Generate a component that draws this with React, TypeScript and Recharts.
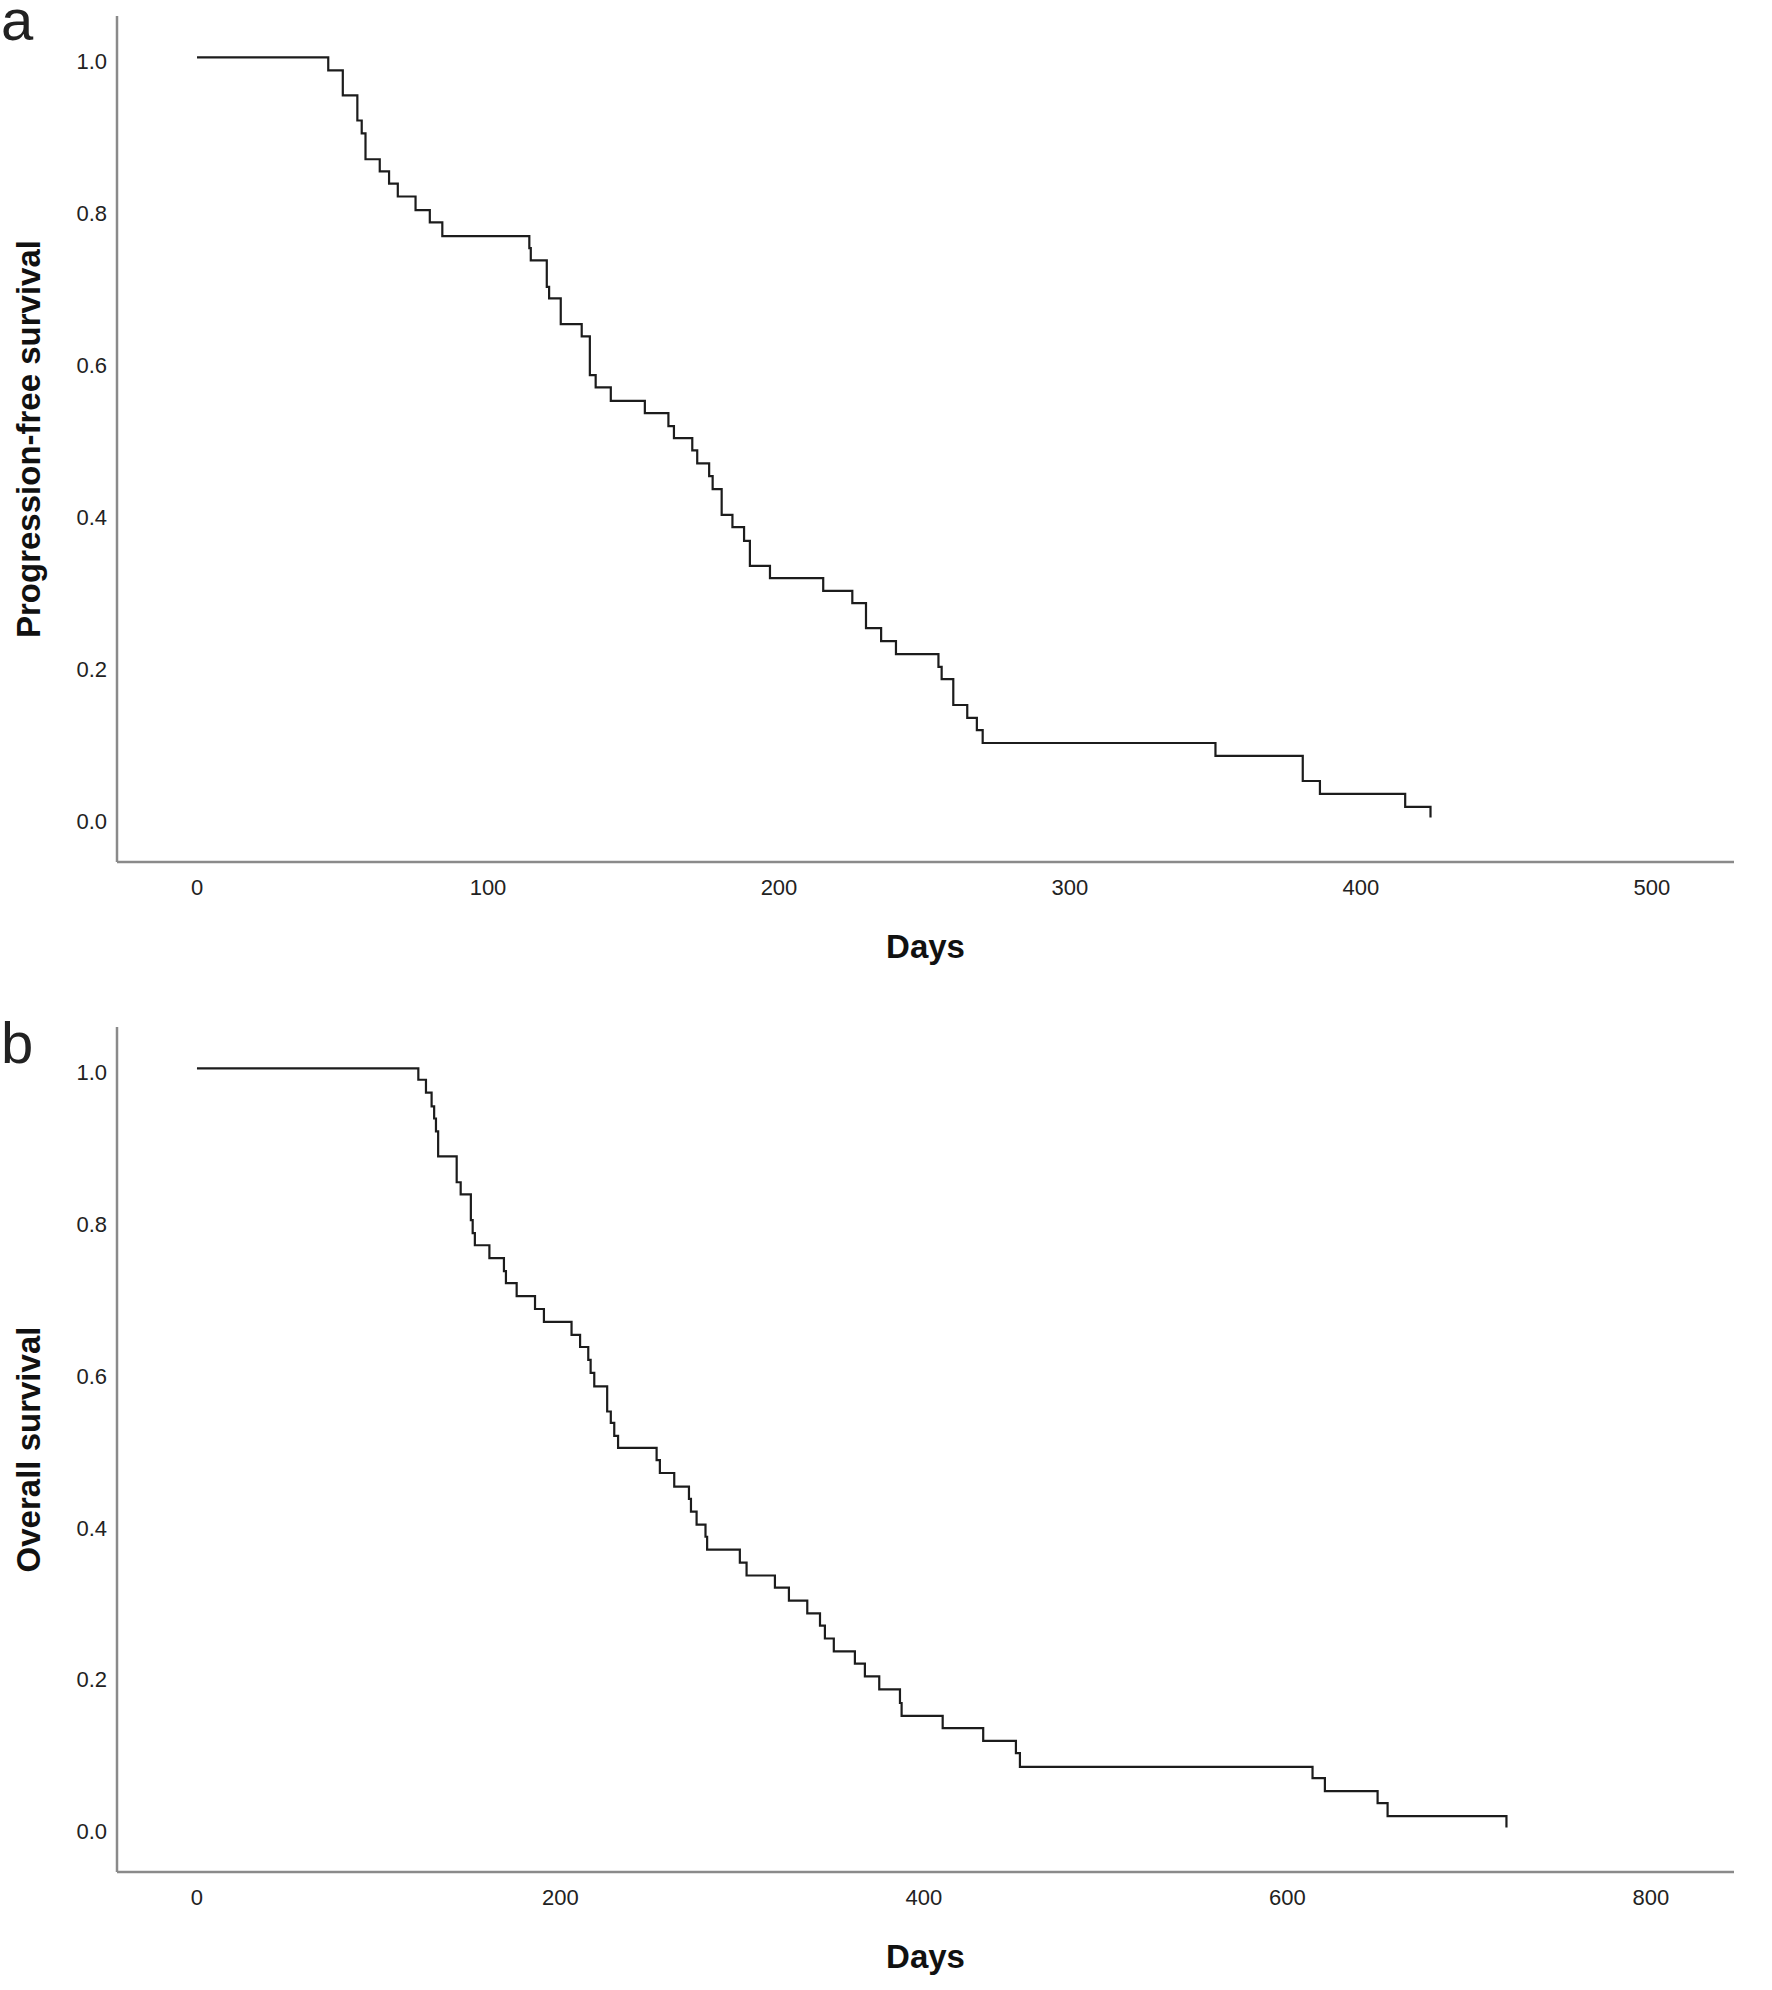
import React from 'react';
import { LineChart, Line, XAxis, YAxis } from 'recharts';

// Kaplan-Meier estimates (days, survival probability)
const pfsDays = [
  0, 45.1, 50.1, 55.1, 56.6, 57.9, 62.8, 66.0, 69.0, 75.1, 80.0, 84.3, 114.2, 114.7,
  120.2, 121.0, 125.0, 132.2, 135.0, 137.0, 142.2, 153.9, 162.0, 163.9, 170.2, 171.9,
  176.0, 177.2, 180.3, 184.0, 188.0, 190.0, 196.9, 215.2, 225.2, 229.9, 235.1, 240.2,
  254.8, 255.9, 259.9, 264.7, 268.0, 270.0, 350.0, 380.0, 385.9, 415.2, 423.9,
];
const pfsSurvival = [
  1.0, 0.983, 0.95, 0.917, 0.9, 0.866, 0.85, 0.834, 0.817, 0.799, 0.783, 0.765, 0.749, 0.733,
  0.698, 0.683, 0.649, 0.633, 0.582, 0.566, 0.548, 0.532, 0.515, 0.499, 0.483, 0.466,
  0.449, 0.432, 0.398, 0.382, 0.364, 0.331, 0.315, 0.298, 0.282, 0.249, 0.232, 0.215,
  0.198, 0.182, 0.148, 0.131, 0.115, 0.098, 0.081, 0.048, 0.031, 0.014, 0.0,
];

const osDays = [
  0, 121.8, 126.0, 129.1, 130.5, 131.5, 132.7, 142.9, 145.1, 150.7, 151.7, 152.9, 160.9,
  168.9, 170.0, 175.9, 186.0, 190.9, 206.1, 210.8, 215.3, 216.6, 218.6, 225.7, 227.7,
  229.6, 231.7, 252.9, 254.7, 262.6, 270.7, 271.8, 274.9, 279.8, 280.7, 298.7, 302.4,
  318.0, 325.7, 335.8, 342.8, 345.5, 350.4, 362.0, 367.5, 375.4, 386.8, 387.7, 410.3,
  432.6, 450.6, 452.8, 613.8, 620.6, 649.6, 655.1, 720.5,
];
const osSurvival = [
  1.0, 0.985, 0.968, 0.95, 0.934, 0.917, 0.884, 0.85, 0.834, 0.8, 0.783, 0.767, 0.75,
  0.733, 0.717, 0.7, 0.683, 0.666, 0.649, 0.633, 0.616, 0.599, 0.581, 0.548, 0.533,
  0.516, 0.5, 0.484, 0.467, 0.449, 0.433, 0.416, 0.399, 0.383, 0.366, 0.349, 0.332,
  0.316, 0.299, 0.282, 0.266, 0.249, 0.232, 0.216, 0.199, 0.182, 0.164, 0.147, 0.131,
  0.114, 0.098, 0.08, 0.065, 0.048, 0.032, 0.015, 0.0,
];

const survivalTicks = [0, 0.2, 0.4, 0.6, 0.8, 1.0];
const pfsDayTicks = [0, 100, 200, 300, 400, 500];
const osDayTicks = [0, 200, 400, 600, 800];

const pfsData = pfsDays.map((t, i) => ({ t, s: pfsSurvival[i] }));
const osData = osDays.map((t, i) => ({ t, s: osSurvival[i] }));

const FONT = '"Liberation Sans", Arial, Helvetica, sans-serif';
const AXIS_COLOR = '#8a8a8a';
const TEXT_COLOR = '#222222';

type PanelProps = {
  data: { t: number; s: number }[];
  dayTicks: number[];
  xDomain: [number, number];
  yLabel: string;
  marginTop: number;
  xAxisHeight: number;
  daysOffset: number;
};

function Panel({ data, dayTicks, xDomain, yLabel, marginTop, xAxisHeight, daysOffset }: PanelProps) {
  return (
    <LineChart
      width={1772}
      height={995}
      data={data}
      margin={{ top: marginTop, right: 38, bottom: 0, left: 0 }}
      style={{ fontFamily: FONT }}
    >
      <XAxis
        dataKey="t"
        type="number"
        domain={xDomain}
        ticks={dayTicks}
        allowDataOverflow
        height={xAxisHeight}
        tickLine={false}
        tickSize={0}
        tickMargin={17}
        axisLine={{ stroke: AXIS_COLOR, strokeWidth: 2.5 }}
        tick={{ fontSize: 22, fill: TEXT_COLOR, fontFamily: FONT }}
        label={{
          value: 'Days',
          position: 'insideBottom',
          offset: daysOffset,
          fill: '#111',
          fontSize: 33,
          fontWeight: 'bold',
          style: { fontSize: 33, fontWeight: 'bold', fill: '#111', fontFamily: FONT },
        }}
      />
      <YAxis
        type="number"
        domain={[-0.0586, 1.0545]}
        ticks={survivalTicks}
        allowDataOverflow
        width={117}
        tickLine={false}
        tickSize={0}
        tickMargin={10}
        tickFormatter={(v: number) => v.toFixed(1)}
        axisLine={{ stroke: AXIS_COLOR, strokeWidth: 2.5 }}
        tick={{ fontSize: 22, fill: TEXT_COLOR, fontFamily: FONT, dy: 4 }}
        label={{
          value: yLabel,
          angle: -90,
          position: 'insideLeft',
          offset: 28,
          fill: '#111',
          style: { textAnchor: 'middle', fontSize: 33, fontWeight: 'bold', fill: '#111', fontFamily: FONT },
        }}
      />
      <Line
        type="stepAfter"
        dataKey="s"
        stroke="#1c1c1c"
        strokeWidth={2.2}
        dot={false}
        activeDot={false}
        isAnimationActive={false}
      />
    </LineChart>
  );
}

const letterStyle: React.CSSProperties = {
  position: 'absolute',
  left: 1,
  fontFamily: FONT,
  fontSize: 58,
  lineHeight: '40px',
  height: 48,
  color: '#222',
};

export default function App() {
  return (
    <div
      style={{
        position: 'absolute',
        left: 0,
        top: 0,
        width: 1772,
        height: 1990,
        background: '#fff',
        overflow: 'hidden',
        fontFamily: FONT,
      }}
    >
      <div style={{ position: 'absolute', left: 0, top: 0 }}>
        <Panel
          data={pfsData}
          dayTicks={pfsDayTicks}
          xDomain={[-27.5, 528.2]}
          yLabel="Progression-free survival"
          marginTop={16}
          xAxisHeight={133}
          daysOffset={37}
        />
      </div>
      <div style={{ position: 'absolute', left: 0, top: 995 }}>
        <Panel
          data={osData}
          dayTicks={osDayTicks}
          xDomain={[-44.0, 845.7]}
          yLabel="Overall survival"
          marginTop={32}
          xAxisHeight={118}
          daysOffset={22}
        />
      </div>
      <div style={{ ...letterStyle, top: 0 }}>a</div>
      <div style={{ ...letterStyle, top: 1023 }}>b</div>
    </div>
  );
}
